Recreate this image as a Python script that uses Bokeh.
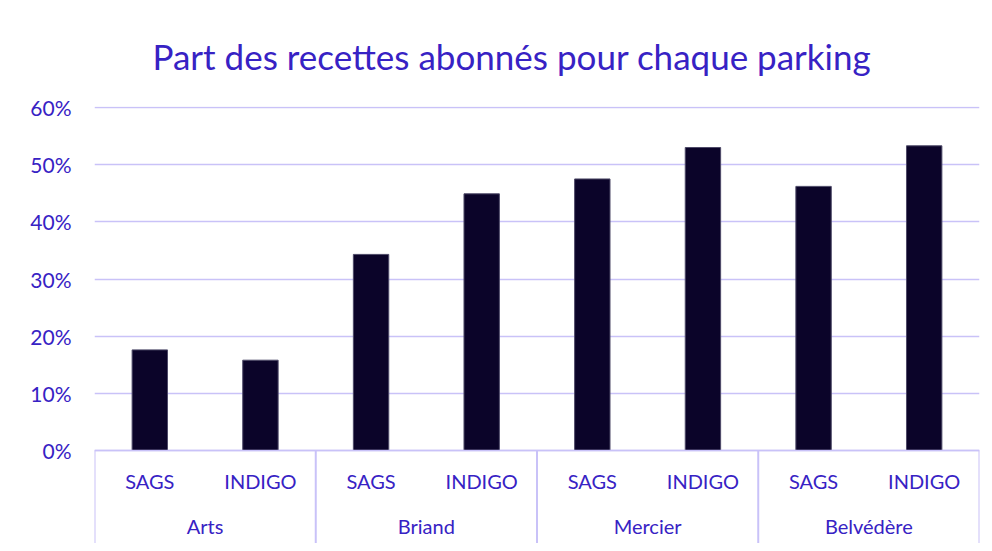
from bokeh.plotting import figure
from bokeh.models import FactorRange, Range1d, FixedTicker, NumeralTickFormatter
from bokeh.embed import file_html
from bokeh.resources import INLINE

# ---- data ----
parkings = ["Arts", "Briand", "Mercier", "Belvédère"]
operators = ["SAGS", "INDIGO"]
share_sags = [0.176, 0.343, 0.475, 0.462]
share_indigo = [0.158, 0.449, 0.530, 0.533]
y_ticks = [0, 0.1, 0.2, 0.3, 0.4, 0.5, 0.6]
title_text = "Part des recettes abonnés pour chaque parking"

# ---- styles ----
TEXT = "#3722C4"
GRID = "#C9C2F8"
BAR = "#0B0429"
FONT = "Lato"

factors = [(pk, op) for pk in parkings for op in operators]
values = []
for s, i in zip(share_sags, share_indigo):
    values += [s, i]

x_range = FactorRange(*factors, factor_padding=0, group_padding=0, range_padding=0)
y_start = -0.16268
y_range = Range1d(y_start, 0.60175)

p = figure(width=984, height=543, x_range=x_range, y_range=y_range,
           output_backend="svg", toolbar_location=None,
           min_border_left=94, min_border_right=5, min_border_top=106, min_border_bottom=0,
           title=title_text)
p.outline_line_color = None
p.background_fill_color = "white"
p.border_fill_color = "white"

p.title.text_font = FONT
p.title.text_font_size = "35px"
p.title.text_font_style = "normal"
p.title.text_color = TEXT
p.title.align = "left"
p.title.offset = 58
p.title.standoff = 59

# bars
p.vbar(x=factors, top=values, bottom=0, width=0.32,
       fill_color=BAR, line_color="#4E4A68", line_width=1)

# category separators below the axis
n_sub = len(operators)
bounds = [i * n_sub for i in range(len(parkings) + 1)]
p.segment(x0=bounds, y0=[0] * len(bounds), x1=bounds, y1=[y_start] * len(bounds),
          line_color=GRID, line_width=2)

# y axis
p.yaxis.ticker = FixedTicker(ticks=y_ticks)
p.yaxis.formatter = NumeralTickFormatter(format="0%")
p.yaxis.axis_line_color = None
p.yaxis.major_tick_line_color = None
p.yaxis.minor_tick_line_color = None
p.yaxis.major_tick_out = 0
p.yaxis.major_tick_in = 0
p.yaxis.major_label_standoff = 23
p.yaxis.major_label_text_font = FONT
p.yaxis.major_label_text_font_size = "21px"
p.yaxis.major_label_text_color = TEXT

p.ygrid.ticker = FixedTicker(ticks=y_ticks)
p.ygrid.grid_line_color = GRID
p.ygrid.grid_line_width = 1.5
p.xgrid.grid_line_color = None

# x axis (nested categories) placed at 0
p.xaxis.fixed_location = 0
p.xaxis.axis_line_color = GRID
p.xaxis.axis_line_width = 1.5
p.xaxis.major_tick_line_color = None
p.xaxis.major_tick_out = 0
p.xaxis.major_tick_in = 0
p.xaxis.separator_line_color = None
p.xaxis.major_label_standoff = 18
p.xaxis.major_label_text_font = FONT
p.xaxis.major_label_text_font_size = "20px"
p.xaxis.major_label_text_color = TEXT
p.xaxis.group_text_font = FONT
p.xaxis.group_text_font_size = "20px"
p.xaxis.group_text_font_style = "normal"
p.xaxis.group_text_color = TEXT

open("out.html", "w").write(file_html(p, INLINE))
